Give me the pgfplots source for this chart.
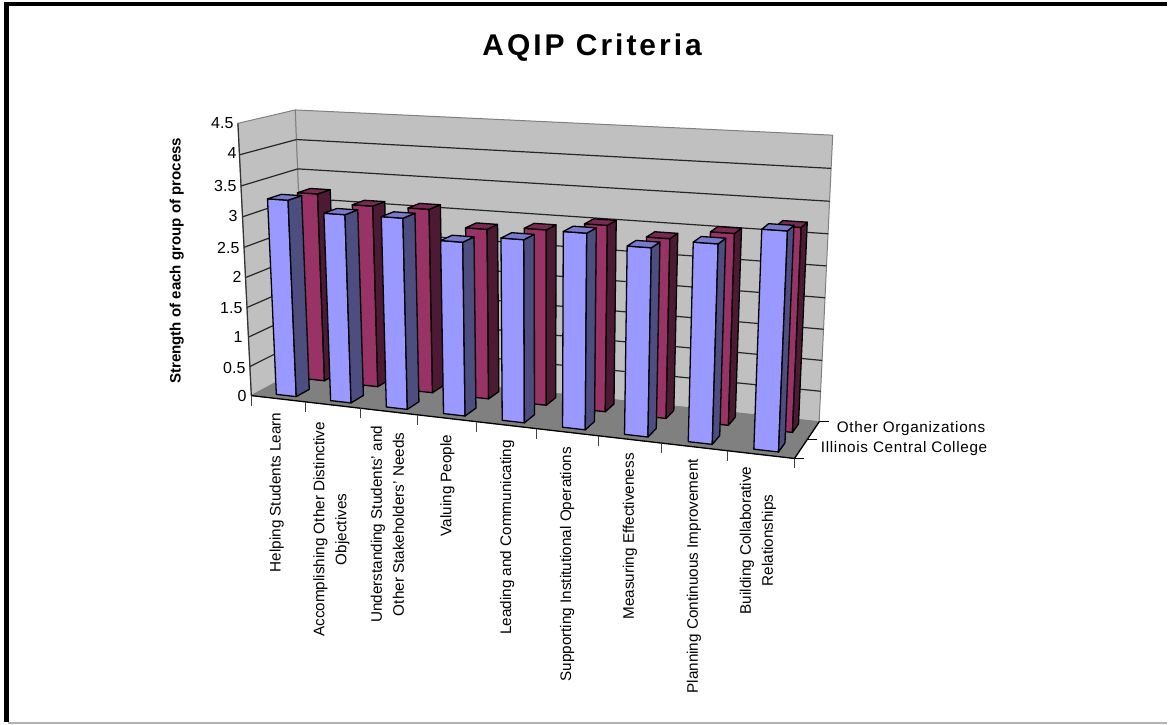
\documentclass[border=0pt]{standalone}
\usepackage{pgfplots}
\usepackage{pgfplotstable}
\usepackage{fontspec}
\pgfplotsset{compat=1.18}
\setmainfont{Liberation Sans}
\newfontfamily\ser[LetterSpace=4.5]{Liberation Sans}
\newfontfamily\ttl[LetterSpace=10,BoldFont={Liberation Sans Bold}]{Liberation Sans}
\pgfplotstableread{
idx ICC Other
0 3.28 3.22
1 3.11 3.08
2 3.12 3.09
3 2.81 2.83
4 2.92 2.89
5 3.09 3.03
6 2.94 2.89
7 3.07 3.04
8 3.33 3.20
}\datatable
\definecolor{blueF}{HTML}{9999FF}
\definecolor{blueS}{HTML}{4D4D80}
\definecolor{blueT}{HTML}{7A7ACC}
\definecolor{redF}{HTML}{993366}
\definecolor{redS}{HTML}{4D1A33}
\definecolor{redT}{HTML}{7A2952}
\definecolor{wall}{HTML}{C0C0C0}
\definecolor{floorc}{HTML}{808080}
% projection of chart space (u along categories, v in depth, w in height; all 0..1) onto the page
\newcommand\proj[4]{%
  \pgfmathsetmacro\dd{1-0.115*(#1)+0.063*(#2)-0.044*(#3)}%
  \pgfmathsetmacro\tmpx{(251.7+452.5*(#1)+73.6*(#2)-23.9*(#3))/\dd}%
  \pgfmathsetmacro\tmpy{(396+10.2*(#1)-5.9*(#2)-278.1*(#3))/\dd}%
  \expandafter\edef\csname X#4\endcsname{\tmpx}%
  \expandafter\edef\csname Y#4\endcsname{\tmpy}}
\newcommand\quadface[5]{% style, then 4 corners as u,v,w triples
  \def\doit##1,##2,##3;##4,##5,##6;##7,##8,##9;{%
    \proj{##1}{##2}{##3}{a}\proj{##4}{##5}{##6}{b}\proj{##7}{##8}{##9}{c}}%
  \doit #2;#3;#4;%
  \def\doitb##1,##2,##3;{\proj{##1}{##2}{##3}{d}}%
  \doitb #5;%
  \edef\tmpplot{\noexpand\addplot[#1] coordinates {(\Xa,\Ya)(\Xb,\Yb)(\Xc,\Yc)(\Xd,\Yd)} -- cycle;}%
  \tmpplot}
\newcommand\seg[3]{% style, two u,v,w triples
  \def\doit##1,##2,##3;##4,##5,##6;{\proj{##1}{##2}{##3}{a}\proj{##4}{##5}{##6}{b}}%
  \doit #2;#3;%
  \edef\tmpplot{\noexpand\addplot[#1] coordinates {(\Xa,\Ya)(\Xb,\Yb)};}%
  \tmpplot}
% one bar: index, v front, v back, value, colours F S T
\newcommand\onebar[7]{%
  \pgfmathsetmacro\ul{(#1+0.5-0.185)/9+0.004}%
  \pgfmathsetmacro\ur{(#1+0.5+0.185)/9+0.004}%
  \pgfmathsetmacro\wt{#4/4.5}%
  \quadface{fill=#5,draw=black,line width=1.3pt}{\ul,#2,0}{\ur,#2,0}{\ur,#2,\wt}{\ul,#2,\wt}%
  \quadface{fill=#6,draw=black,line width=1.3pt}{\ur,#2,0}{\ur,#3,0}{\ur,#3,\wt}{\ur,#2,\wt}%
  \quadface{fill=#7,draw=black,line width=1.3pt}{\ul,#2,\wt}{\ur,#2,\wt}{\ur,#3,\wt}{\ul,#3,\wt}%
}
\begin{document}
\begin{tikzpicture}
\begin{axis}[scale only axis,width=1169pt,height=725pt,xmin=0,xmax=1169,ymin=0,ymax=725,
  y dir=reverse,hide axis,clip=false,
  every axis plot/.append style={mark=none,line join=round}]
\path (axis cs:0,0) rectangle (axis cs:1169,725);
% frame
\addplot[draw=black,line width=4.4pt] coordinates {(6.5,723)(6.5,2)};
\addplot[draw=black,line width=3.6pt] coordinates {(4.3,3.8)(1169,3.8)};
\addplot[draw=black!30,line width=1.5pt] coordinates {(8,723.8)(1169,723.8)};
% walls and floor
\quadface{fill=wall,draw=floorc,line width=1pt}{0,0,0}{0,1,0}{0,1,1}{0,0,1}
\quadface{fill=wall,draw=floorc,line width=1pt}{0,1,0}{1,1,0}{1,1,1}{0,1,1}
\quadface{fill=floorc,draw=floorc,line width=0.8pt}{0,0,0}{1,0,0}{1,1,0}{0,1,0}
% grid lines
\pgfplotsforeachungrouped \g in {0.5,1,...,4}{%
  \pgfmathsetmacro\gw{\g/4.5}%
  \seg{draw=black!85,line width=1.2pt}{0,0,\gw}{0,1,\gw}
  \seg{draw=black!85,line width=1.2pt}{0,1,\gw}{1,1,\gw}
}
% axes
\seg{draw=black!80,line width=1.2pt}{0,0,0}{0,0,1}
\seg{draw=black,line width=1.3pt}{0,0,0}{1,0,0}
\seg{draw=black,line width=1.3pt}{1,0,0}{1,1,0}
\pgfplotsforeachungrouped \t in {0,...,9}{%
  \pgfmathsetmacro\tu{\t/9}%
  \proj{\tu}{0}{0}{t}%
  \pgfmathsetmacro\tyy{\Yt+10}%
  \edef\tmpplot{\noexpand\addplot[draw=black!75,line width=1.1pt] coordinates {(\Xt,\Yt)(\Xt,\tyy)};}\tmpplot
}
\pgfplotsforeachungrouped \t in {0,0.5,1}{%
  \proj{1}{\t}{0}{t}%
  \pgfmathsetmacro\txx{\Xt+10}%
  \edef\tmpplot{\noexpand\addplot[draw=black,line width=1.1pt] coordinates {(\Xt,\Yt)(\txx,\Yt)};}\tmpplot
}
% bars
\pgfplotsforeachungrouped \i in {0,...,8}{%
  \pgfplotstablegetelem{\i}{Other}\of\datatable \let\val\pgfplotsretval
  \onebar{\i}{0.64}{0.88}{\val}{redF}{redS}{redT}
}
\pgfplotsforeachungrouped \i in {0,...,8}{%
  \pgfplotstablegetelem{\i}{ICC}\of\datatable \let\val\pgfplotsretval
  \onebar{\i}{0.11}{0.35}{\val}{blueF}{blueS}{blueT}
}
% texts
\node[font=\fontsize{30}{32}\ttl\bfseries] at (axis cs:593,47.5) {AQIP Criteria};
\node[font=\fontsize{15.1}{17}\bfseries,rotate=90] at (axis cs:177,261) {Strength of each group of process};
\tikzset{yl/.style={font=\fontsize{16}{18}\selectfont,anchor=east,inner sep=0pt}}
\node[yl] at (axis cs:234,123) {4.5};
\node[yl] at (axis cs:237,153) {4};
\node[yl] at (axis cs:237,186) {3.5};
\node[yl] at (axis cs:238,216) {3};
\node[yl] at (axis cs:240,248) {2.5};
\node[yl] at (axis cs:242,277) {2};
\node[yl] at (axis cs:243,308) {1.5};
\node[yl] at (axis cs:243,337) {1};
\node[yl] at (axis cs:246,368) {0.5};
\node[yl] at (axis cs:247,396) {0};
\node[font=\fontsize{15.3}{17}\ser,anchor=east,inner sep=0pt] at (axis cs:987,429) {Other Organizations};
\node[font=\fontsize{15.3}{17}\ser,anchor=east,inner sep=0pt] at (axis cs:989,449) {Illinois Central College};
\tikzset{cat/.style={font=\fontsize{15.3}{22}\selectfont,rotate=90,align=center,inner sep=0pt}}
\node[cat] at (axis cs:277,493) {Helping Students Learn};
\node[cat] at (axis cs:332,530) {Accomplishing Other Distinctive\\Objectives};
\node[cat] at (axis cs:388,525) {Understanding Students' and\\Other Stakeholders' Needs};
\node[cat] at (axis cs:448,486) {Valuing People};
\node[cat] at (axis cs:508,538) {Leading and Communicating};
\node[cat] at (axis cs:568,565) {Supporting Institutional Operations};
\node[cat] at (axis cs:631,537) {Measuring Effectiveness};
\node[cat] at (axis cs:695,577) {Planning Continuous Improvement};
\node[cat] at (axis cs:759,541) {Building Collaborative\\Relationships};
\end{axis}
\end{tikzpicture}
\end{document}
